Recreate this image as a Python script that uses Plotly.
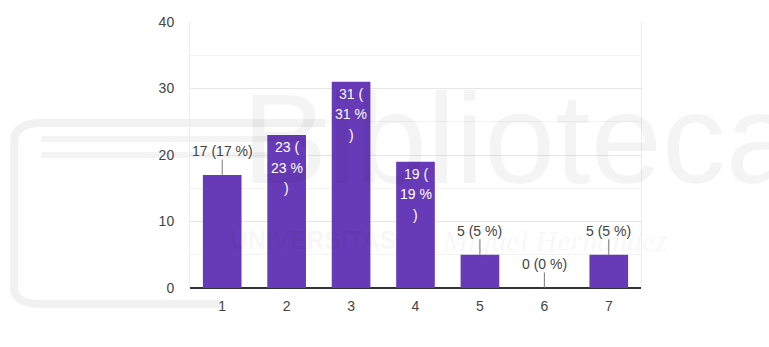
import plotly.graph_objects as go

# Response counts per rating option
categories = ["1", "2", "3", "4", "5", "6", "7"]
counts = [17, 23, 31, 19, 5, 0, 5]
y_ticks = [0, 10, 20, 30, 40]

BAR_COLOR = "#673ab7"
TEXT_GRAY = "#444444"
FONT = "Liberation Sans, Arial, sans-serif"
INSIDE_MIN = 18  # bars at least this tall carry their label inside

total = sum(counts)
pcts = [round(100 * c / total) for c in counts]

fig = go.Figure(
    go.Bar(
        x=categories,
        y=counts,
        marker=dict(color=BAR_COLOR, line=dict(width=0)),
        width=0.6,
        hoverinfo="skip",
    )
)

annotations = []
for idx, (val, pct) in enumerate(zip(counts, pcts)):
    if val >= INSIDE_MIN:
        # tall bars: label wrapped inside the bar in white
        lines = [f"{val} (", f"{pct} %", ")"]
        for i, line in enumerate(lines):
            annotations.append(dict(
                x=idx, y=val, xref="x", yref="y", text=line,
                showarrow=False, yanchor="middle",
                yshift=-(12 + 20.5 * i),
                font=dict(color="white", size=14, family=FONT),
            ))
    else:
        # short bars: label above with a leader line
        annotations.append(dict(
            x=idx, y=val, xref="x", yref="y",
            text=f"{val} ({pct} %)",
            showarrow=True, arrowhead=0, arrowwidth=1, arrowcolor="#777777",
            ax=0, ay=-24, standoff=0, borderpad=0,
            font=dict(color=TEXT_GRAY, size=14, family=FONT),
        ))

# faint library watermark across the page
annotations.append(dict(
    x=(240 - 190) / 451, y=(288 - 212) / 266, xref="paper", yref="paper",
    text="Biblioteca", showarrow=False, xanchor="left", yanchor="bottom",
    font=dict(size=128, color="rgba(0,0,0,0.045)", family=FONT),
))
annotations.append(dict(
    x=(228 - 190) / 451, y=(288 - 240) / 266, xref="paper", yref="paper",
    text="<b>UNIVERSITAS</b>", showarrow=False, xanchor="left", yanchor="middle",
    font=dict(size=25, color="rgba(0,0,0,0.05)", family=FONT),
))
annotations.append(dict(
    x=(440 - 190) / 451, y=(288 - 240) / 266, xref="paper", yref="paper",
    text="<i>Miguel Hernández</i>", showarrow=False, xanchor="left", yanchor="middle",
    font=dict(size=30, color="rgba(0,0,0,0.045)", family="Liberation Serif, serif"),
))

shapes = [
    dict(type="path", xref="paper", yref="paper", layer="below",
         path="M 0.07 -0.06 L -0.33 -0.06 Q -0.39 -0.06 -0.39 0.0 L -0.39 0.55 "
              "Q -0.39 0.62 -0.33 0.62 L 0.3 0.62",
         line=dict(color="rgba(0,0,0,0.055)", width=8)),
    dict(type="line", xref="paper", yref="paper", layer="below",
         x0=-0.33, x1=0.25, y0=0.56, y1=0.56,
         line=dict(color="rgba(0,0,0,0.045)", width=6)),
    dict(type="line", xref="paper", yref="paper", layer="below",
         x0=-0.33, x1=0.25, y0=0.5, y1=0.5,
         line=dict(color="rgba(0,0,0,0.045)", width=6)),
]

fig.update_layout(
    width=769, height=347,
    margin=dict(l=190, r=128, t=22, b=59),
    paper_bgcolor="white",
    plot_bgcolor="rgba(0,0,0,0)",
    showlegend=False,
    annotations=annotations,
    shapes=shapes,
    font=dict(family=FONT, color=TEXT_GRAY, size=14),
    xaxis=dict(
        type="category", categoryorder="array", categoryarray=categories,
        range=[-0.5, len(categories) - 0.5],
        showgrid=False, showline=False, ticks="",
        ticklabelstandoff=8,
        tickfont=dict(size=14, color=TEXT_GRAY),
        fixedrange=True,
    ),
    yaxis=dict(
        range=[0, 40], tickvals=y_ticks, ticktext=[str(t) for t in y_ticks],
        showgrid=True, gridcolor="#e6e6e6", gridwidth=1,
        minor=dict(dtick=5, showgrid=True, gridcolor="#f3f3f3", gridwidth=1),
        zeroline=True, zerolinecolor="#333333", zerolinewidth=2,
        showline=True, mirror=True, linecolor="#ececec", linewidth=1,
        ticks="", ticklabelstandoff=12,
        tickfont=dict(size=14, color=TEXT_GRAY),
        fixedrange=True,
    ),
)

fig.write_html("out.html")
